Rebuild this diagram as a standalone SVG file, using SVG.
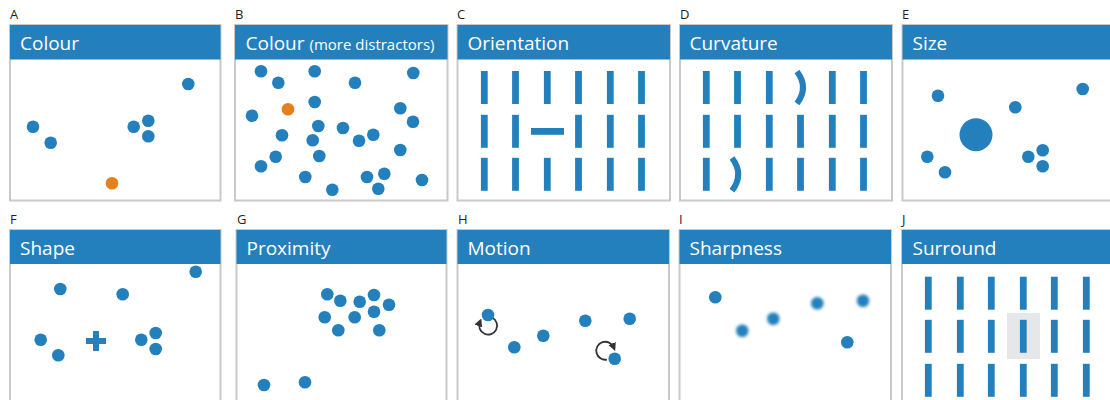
<svg xmlns="http://www.w3.org/2000/svg" width="1110" height="400" viewBox="0 0 1110 400">
  <style>
    .frame { fill: #ffffff; stroke: #c8c9cb; stroke-width: 2; }
    .head { fill: #2480bc; }
    .title { font-family: "Open Sans", "Noto Sans", sans-serif; font-size: 19px; fill: #ffffff; }
    .small { font-size: 15px; }
    .tag { font-family: "Open Sans", "Noto Sans", sans-serif; font-size: 13px; fill: #231f20; }
    .dot { fill: #2480bc; }
    .odd { fill: #e5801f; }
    .bar { fill: #2480bc; }
    .bend { fill: none; stroke: #2480bc; stroke-width: 6; }
    .spin { fill: none; stroke: #333333; stroke-width: 1.8; marker-end: url(#tip); }
  </style>
  <defs>
    <marker id="tip" viewBox="0 0 10 10" refX="5" refY="5" markerWidth="4.5" markerHeight="4.5" orient="auto" markerUnits="strokeWidth">
      <path d="M0,0 L10,5 L0,10 z" fill="#333333"/>
    </marker>
    <filter id="soft" x="-1" y="-1" width="3" height="3">
      <feGaussianBlur stdDeviation="1.8"/>
    </filter>
    <rect id="vbar" x="-3.4" y="-16.5" width="6.8" height="33"/>
  </defs>

  <!-- A: colour -->
  <g id="panel-a">
    <text class="tag" x="10" y="19">A</text>
    <rect class="frame" x="10" y="25" width="210.5" height="175.5"/>
    <rect class="head" x="10" y="25" width="210.5" height="34.5"/>
    <text class="title" x="20" y="50">Colour</text>
    <g class="dot">
      <circle cx="188.3" cy="84" r="6.3"/>
      <circle cx="33" cy="126.7" r="6.3"/>
      <circle cx="50.7" cy="142.7" r="6.3"/>
      <circle cx="133.7" cy="126.7" r="6.3"/>
      <circle cx="148.3" cy="120.7" r="6.3"/>
      <circle cx="148.3" cy="136.3" r="6.3"/>
    </g>
    <circle class="odd" cx="112" cy="183.3" r="6.3"/>
  </g>

  <!-- B: colour with more distractors -->
  <g id="panel-b">
    <text class="tag" x="235" y="19">B</text>
    <rect class="frame" x="235" y="25" width="212.5" height="175.5"/>
    <rect class="head" x="235" y="25" width="212.5" height="34.5"/>
    <text class="title" x="245.5" y="50">Colour <tspan class="small">(more distractors)</tspan></text>
    <g class="dot">
      <circle cx="261" cy="71.3" r="6.3"/>
      <circle cx="278.3" cy="82.7" r="6.3"/>
      <circle cx="314.7" cy="71.3" r="6.3"/>
      <circle cx="355" cy="82.7" r="6.3"/>
      <circle cx="413.3" cy="73" r="6.3"/>
      <circle cx="314.7" cy="102" r="6.3"/>
      <circle cx="252" cy="115.7" r="6.3"/>
      <circle cx="400.3" cy="108.3" r="6.3"/>
      <circle cx="413" cy="121.7" r="6.3"/>
      <circle cx="318.3" cy="126" r="6.3"/>
      <circle cx="343" cy="128" r="6.3"/>
      <circle cx="282" cy="135.3" r="6.3"/>
      <circle cx="312.7" cy="140.3" r="6.3"/>
      <circle cx="359" cy="140.7" r="6.3"/>
      <circle cx="373.3" cy="134.7" r="6.3"/>
      <circle cx="400.3" cy="150" r="6.3"/>
      <circle cx="275.7" cy="156.7" r="6.3"/>
      <circle cx="319.3" cy="156" r="6.3"/>
      <circle cx="261" cy="166.3" r="6.3"/>
      <circle cx="305.3" cy="177" r="6.3"/>
      <circle cx="367" cy="177" r="6.3"/>
      <circle cx="384.3" cy="173.7" r="6.3"/>
      <circle cx="422" cy="180" r="6.3"/>
      <circle cx="332.3" cy="189.7" r="6.3"/>
      <circle cx="378.3" cy="188.7" r="6.3"/>
    </g>
    <circle class="odd" cx="288" cy="109.3" r="6.3"/>
  </g>

  <!-- C: orientation -->
  <g id="panel-c">
    <text class="tag" x="457" y="19">C</text>
    <rect class="frame" x="457.5" y="25" width="212.5" height="175.5"/>
    <rect class="head" x="457.5" y="25" width="212.5" height="34.5"/>
    <text class="title" x="467.5" y="50">Orientation</text>
    <g class="bar">
      <use href="#vbar" x="484.3" y="87.5"/>
      <use href="#vbar" x="515.5" y="87.5"/>
      <use href="#vbar" x="547.3" y="87.5"/>
      <use href="#vbar" x="578.5" y="87.5"/>
      <use href="#vbar" x="610.3" y="87.5"/>
      <use href="#vbar" x="641.5" y="87.5"/>
      <use href="#vbar" x="484.3" y="131.3"/>
      <use href="#vbar" x="515.5" y="131.3"/>
      <rect x="531" y="128" width="33" height="6.8"/>
      <use href="#vbar" x="578.5" y="131.3"/>
      <use href="#vbar" x="610.3" y="131.3"/>
      <use href="#vbar" x="641.5" y="131.3"/>
      <use href="#vbar" x="484.3" y="174.3"/>
      <use href="#vbar" x="515.5" y="174.3"/>
      <use href="#vbar" x="547.3" y="174.3"/>
      <use href="#vbar" x="578.5" y="174.3"/>
      <use href="#vbar" x="610.3" y="174.3"/>
      <use href="#vbar" x="641.5" y="174.3"/>
    </g>
  </g>

  <!-- D: curvature -->
  <g id="panel-d">
    <text class="tag" x="680" y="19">D</text>
    <rect class="frame" x="680" y="25" width="212" height="175.5"/>
    <rect class="head" x="680" y="25" width="212" height="34.5"/>
    <text class="title" x="689.5" y="50">Curvature</text>
    <g class="bar">
      <use href="#vbar" x="706.3" y="87.5"/>
      <use href="#vbar" x="737.5" y="87.5"/>
      <use href="#vbar" x="769.3" y="87.5"/>
      <use href="#vbar" x="832.3" y="87.5"/>
      <use href="#vbar" x="863.5" y="87.5"/>
      <use href="#vbar" x="706.3" y="131.3"/>
      <use href="#vbar" x="737.5" y="131.3"/>
      <use href="#vbar" x="769.3" y="131.3"/>
      <use href="#vbar" x="800.5" y="131.3"/>
      <use href="#vbar" x="832.3" y="131.3"/>
      <use href="#vbar" x="863.5" y="131.3"/>
      <use href="#vbar" x="706.3" y="174.3"/>
      <use href="#vbar" x="769.3" y="174.3"/>
      <use href="#vbar" x="800.5" y="174.3"/>
      <use href="#vbar" x="832.3" y="174.3"/>
      <use href="#vbar" x="863.5" y="174.3"/>
    </g>
    <!-- the two bent bars -->
    <path class="bend" d="M797,71.5 Q809,87.5 797,103.5"/>
    <path class="bend" d="M732,158 Q744.5,174.3 732,190.7"/>
  </g>

  <!-- E: size -->
  <g id="panel-e">
    <text class="tag" x="902" y="19">E</text>
    <rect class="frame" x="902.5" y="25" width="230" height="175.5"/>
    <rect class="head" x="902.5" y="25" width="230" height="34.5"/>
    <text class="title" x="912.5" y="50">Size</text>
    <g class="dot">
      <circle cx="938" cy="95.7" r="6.3"/>
      <circle cx="1015.3" cy="107.3" r="6.3"/>
      <circle cx="1082.7" cy="89" r="6.3"/>
      <circle cx="976" cy="134.7" r="16.5"/>
      <circle cx="927.3" cy="156.7" r="6.3"/>
      <circle cx="945" cy="172.3" r="6.3"/>
      <circle cx="1028.3" cy="156.7" r="6.3"/>
      <circle cx="1042.7" cy="150.3" r="6.3"/>
      <circle cx="1042.7" cy="166.3" r="6.3"/>
    </g>
  </g>

  <!-- F: shape -->
  <g id="panel-f">
    <text class="tag" x="10" y="224">F</text>
    <rect class="frame" x="10" y="230" width="210.5" height="200"/>
    <rect class="head" x="10" y="230" width="210.5" height="34"/>
    <text class="title" x="20" y="255">Shape</text>
    <g class="dot">
      <circle cx="195.7" cy="271.7" r="6.3"/>
      <circle cx="60.3" cy="289" r="6.3"/>
      <circle cx="122.7" cy="294.3" r="6.3"/>
      <circle cx="40.7" cy="339.7" r="6.3"/>
      <circle cx="58.3" cy="355.3" r="6.3"/>
      <circle cx="141.3" cy="339.7" r="6.3"/>
      <circle cx="155.7" cy="333" r="6.3"/>
      <circle cx="155.7" cy="349" r="6.3"/>
      <path d="M93,331 h6 v7 h7 v6 h-7 v7 h-6 v-7 h-7 v-6 h7 z"/>
    </g>
  </g>

  <!-- G: proximity -->
  <g id="panel-g">
    <text class="tag" x="237" y="224">G</text>
    <rect class="frame" x="236.5" y="230" width="210" height="200"/>
    <rect class="head" x="236.5" y="230" width="210" height="34"/>
    <text class="title" x="246.5" y="255">Proximity</text>
    <g class="dot">
      <circle cx="327.3" cy="294.3" r="6.3"/>
      <circle cx="340.3" cy="300.7" r="6.3"/>
      <circle cx="359.7" cy="301.7" r="6.3"/>
      <circle cx="374" cy="295" r="6.3"/>
      <circle cx="389" cy="304.7" r="6.3"/>
      <circle cx="324.7" cy="317.3" r="6.3"/>
      <circle cx="354.7" cy="317.3" r="6.3"/>
      <circle cx="374" cy="311.7" r="6.3"/>
      <circle cx="338.3" cy="330.3" r="6.3"/>
      <circle cx="379.3" cy="330.3" r="6.3"/>
      <circle cx="264" cy="385" r="6.3"/>
      <circle cx="305" cy="382.3" r="6.3"/>
    </g>
  </g>

  <!-- H: motion -->
  <g id="panel-h">
    <text class="tag" x="458" y="224">H</text>
    <rect class="frame" x="457.5" y="230" width="211.5" height="200"/>
    <rect class="head" x="457.5" y="230" width="211.5" height="34"/>
    <text class="title" x="467.5" y="255">Motion</text>
    <path class="spin" d="M492.5,317.7 A9,9 0 1 1 479.8,322.2"/>
    <path class="spin" d="M606.9,359.6 A9,9 0 1 1 613.6,347.3"/>
    <g class="dot">
      <circle cx="488" cy="315" r="6.3"/>
      <circle cx="514.3" cy="347.3" r="6.3"/>
      <circle cx="543.3" cy="335.7" r="6.3"/>
      <circle cx="585.3" cy="320.7" r="6.3"/>
      <circle cx="629.7" cy="318.7" r="6.3"/>
      <circle cx="614.7" cy="358.7" r="6.3"/>
    </g>
  </g>

  <!-- I: sharpness -->
  <g id="panel-i">
    <text class="tag" x="679" y="224">I</text>
    <rect class="frame" x="679.5" y="230" width="211.5" height="200"/>
    <rect class="head" x="679.5" y="230" width="211.5" height="34"/>
    <text class="title" x="689.5" y="255">Sharpness</text>
    <g class="dot">
      <circle cx="715.3" cy="297.3" r="6.3"/>
      <circle cx="847.3" cy="342.3" r="6.3"/>
    </g>
    <g class="dot" filter="url(#soft)">
      <circle cx="742.3" cy="330.7" r="6.3"/>
      <circle cx="773.3" cy="318.7" r="6.3"/>
      <circle cx="817.3" cy="303.3" r="6.3"/>
      <circle cx="863" cy="300.7" r="6.3"/>
    </g>
  </g>

  <!-- J: surround -->
  <g id="panel-j">
    <text class="tag" x="902" y="224">J</text>
    <rect class="frame" x="902" y="230" width="230" height="200"/>
    <rect class="head" x="902" y="230" width="230" height="34"/>
    <text class="title" x="912.5" y="255">Surround</text>
    <rect x="1007" y="313" width="33" height="46" fill="#e6e7e8"/>
    <g class="bar">
      <use href="#vbar" x="928.3" y="293.2"/>
      <use href="#vbar" x="960.3" y="293.2"/>
      <use href="#vbar" x="991.3" y="293.2"/>
      <use href="#vbar" x="1023.3" y="293.2"/>
      <use href="#vbar" x="1054.3" y="293.2"/>
      <use href="#vbar" x="1086.3" y="293.2"/>
      <use href="#vbar" x="928.3" y="336.3"/>
      <use href="#vbar" x="960.3" y="336.3"/>
      <use href="#vbar" x="991.3" y="336.3"/>
      <use href="#vbar" x="1023.3" y="336.3"/>
      <use href="#vbar" x="1054.3" y="336.3"/>
      <use href="#vbar" x="1086.3" y="336.3"/>
      <use href="#vbar" x="928.3" y="380.3"/>
      <use href="#vbar" x="960.3" y="380.3"/>
      <use href="#vbar" x="991.3" y="380.3"/>
      <use href="#vbar" x="1023.3" y="380.3"/>
      <use href="#vbar" x="1054.3" y="380.3"/>
      <use href="#vbar" x="1086.3" y="380.3"/>
    </g>
  </g>
</svg>
